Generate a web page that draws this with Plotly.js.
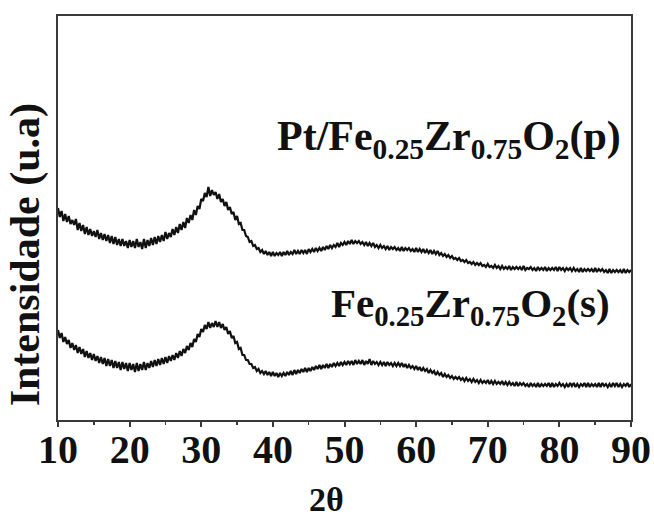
<!DOCTYPE html>
<html>
<head>
<meta charset="utf-8">
<script src="https://cdn.plot.ly/plotly-3.0.1.min.js"></script>
<style>html,body{margin:0;padding:0;background:#fff;}#chart{width:654px;height:520px;}</style>
</head>
<body>
<div id="chart"></div>
<script>
// 2θ sampling grid: start and step (degrees)
const twoThetaStart = 10;
const twoThetaStep = 0.25;

// Pt/Fe0.25Zr0.75O2(p) intensity (a.u.), one value per 0.25° from 10° to 90°
const intensityPtFeZr = [
212,203,209,199, 206,198,204,196, 200,195,201,190, 197,189,195,186, 193,185,191,184,
189,183,190,181, 187,180,186,179, 185,177,184,176, 183,175,181,174, 181,174,179,172,
180,173,179,172, 181,173,178,171, 181,172,180,174, 182,175,183,176, 184,178,185,179,
188,181,187,183, 191,185,193,187, 196,190,198,192, 202,197,205,200, 210,205,214,211,
221,219,227,223, 233,224,230,225, 228,221,226,218, 221,214,218,210, 213,206,208,200,
204,196,197,190, 190,184,183,178, 179,174,175,171, 172,168,170,166, 169,165,168,164,
168,164,167,165, 168,164,168,165, 169,165,168,166, 170,166,169,166, 170,167,170,166,
171,168,171,168, 172,169,172,169, 173,170,174,171, 175,172,175,173, 177,173,177,175,
178,175,179,176, 180,176,179,177, 179,176,178,175, 178,174,177,174, 177,173,175,172,
175,172,174,171, 174,170,173,171, 173,170,172,169, 173,169,172,170, 172,169,171,168,
172,168,171,168, 171,167,170,167, 170,166,169,166, 169,165,167,164, 166,163,165,162,
164,161,162,160, 162,159,160,158, 160,157,158,156, 158,155,157,155, 157,154,155,153,
156,153,154,152, 155,152,154,151, 154,151,153,151, 154,150,153,151, 153,151,153,150,
154,150,152,151, 153,150,152,149, 153,150,152,150, 153,149,152,150, 152,150,153,149,
153,150,152,149, 152,150,152,149, 152,149,151,148, 152,148,151,149, 151,149,151,148,
152,148,151,149, 151,148,150,147, 151,147,150,148, 150,148,150,147, 151,147,150,148,
150
];

// Fe0.25Zr0.75O2(s) intensity (a.u.), one value per 0.25° from 10° to 90°
const intensityFeZr = [
90,82,87,78, 83,76,80,72, 77,70,75,67, 73,66,71,63, 69,62,67,60,
66,59,64,57, 63,56,62,54, 61,54,60,52, 59,52,58,50, 58,51,57,49,
57,50,56,48, 57,49,56,50, 58,50,57,52, 59,53,60,54, 61,55,62,56,
63,57,64,59, 65,60,67,62, 69,64,71,67, 74,70,77,73, 81,78,86,83,
91,88,95,91, 98,92,97,93, 99,93,98,92, 96,90,93,86, 89,82,84,77,
78,71,72,65, 65,60,60,56, 56,52,53,49, 51,47,49,46, 49,45,48,44,
48,44,47,43, 47,44,47,44, 48,45,49,45, 50,46,50,47, 51,48,52,48,
52,49,53,50, 54,51,55,51, 55,52,56,52, 56,53,57,54, 57,54,58,55,
58,55,59,56, 59,55,60,56, 59,56,60,55, 59,56,61,55, 59,56,58,55,
58,55,58,54, 58,55,57,54, 57,54,57,54, 57,53,56,52, 55,52,54,51,
54,50,53,49, 52,49,51,47, 50,47,49,45, 48,45,47,43, 46,43,45,42,
44,41,43,41, 43,40,42,39, 42,39,41,38, 41,38,40,37, 40,37,39,37,
40,36,39,36, 39,36,38,36, 39,35,38,35, 38,35,37,34, 38,34,37,35,
37,34,36,33, 37,34,36,33, 37,33,36,34, 36,34,37,33, 37,33,36,34,
37,34,36,33, 36,33,37,34, 37,33,36,33, 36,34,37,33, 37,33,36,34,
36,33,37,33, 37,34,36,33, 36,33,37,34, 37,33,36,33, 36,34,37,33,
36
];

const seriesLabels = [
  "Pt/Fe<sub>0.25</sub>Zr<sub>0.75</sub>O<sub>2</sub>(p)",
  "Fe<sub>0.25</sub>Zr<sub>0.75</sub>O<sub>2</sub>(s)"
];
const xTickValues = [10,20,30,40,50,60,70,80,90];
const xTitle = "2θ";
const yTitle = "Intensidade (u.a)";

function grid(n){ const a=[]; for(let i=0;i<n;i++){ a.push(twoThetaStart + i*twoThetaStep); } return a; }

const serif = "'Liberation Serif', 'Times New Roman', Times, serif";
const axisColor = "#3a3a3a";

const traces = [
  {x: grid(intensityPtFeZr.length), y: intensityPtFeZr, type: "scatter", mode: "lines",
   line: {color: "#111", width: 2.2}, hoverinfo: "skip", showlegend: false},
  {x: grid(intensityFeZr.length), y: intensityFeZr, type: "scatter", mode: "lines",
   line: {color: "#111", width: 2.2}, hoverinfo: "skip", showlegend: false}
];

const layout = {
  width: 654, height: 520,
  margin: {l: 58, r: 23, t: 16, b: 100},
  paper_bgcolor: "#fff", plot_bgcolor: "#fff",
  showlegend: false,
  font: {family: serif},
  xaxis: {
    range: [10, 90], tickvals: xTickValues, ticktext: xTickValues.map(String),
    ticks: "outside", ticklen: 5, tickwidth: 2, tickcolor: axisColor,
    ticklabelstandoff: -12,
    minor: {dtick: 5, tick0: 5, ticks: "outside", ticklen: 3, tickwidth: 1.5, tickcolor: axisColor, showgrid: false},
    showline: true, linecolor: axisColor, linewidth: 2, mirror: true,
    showgrid: false, zeroline: false,
    tickfont: {family: serif, size: 40, color: "#111", weight: 700},
    fixedrange: true
  },
  yaxis: {
    range: [0, 404], showticklabels: false, ticks: "",
    showline: true, linecolor: axisColor, linewidth: 2, mirror: true,
    showgrid: false, zeroline: false, fixedrange: true
  },
  annotations: [
    {text: seriesLabels[0], xref: "x", yref: "y", x: 88.9, y: 281, xanchor: "right", yanchor: "middle",
     showarrow: false, font: {family: serif, size: 42, color: "#111", weight: 700}},
    {text: seriesLabels[1], xref: "x", yref: "y", x: 87.4, y: 114, xanchor: "right", yanchor: "middle",
     showarrow: false, font: {family: serif, size: 41, color: "#111", weight: 700}},
    {text: xTitle, xref: "paper", yref: "paper", x: 0.469, y: -0.2475, xanchor: "center", yanchor: "bottom",
     showarrow: false, font: {family: serif, size: 34, color: "#111", weight: 700}},
    {text: yTitle, xref: "paper", yref: "paper", x: -0.0576, y: 0.41, xanchor: "center", yanchor: "middle",
     textangle: -90, showarrow: false, font: {family: serif, size: 42, color: "#111", weight: 700}}
  ]
};

Plotly.newPlot("chart", traces, layout, {staticPlot: true, displayModeBar: false});
</script>
</body>
</html>
